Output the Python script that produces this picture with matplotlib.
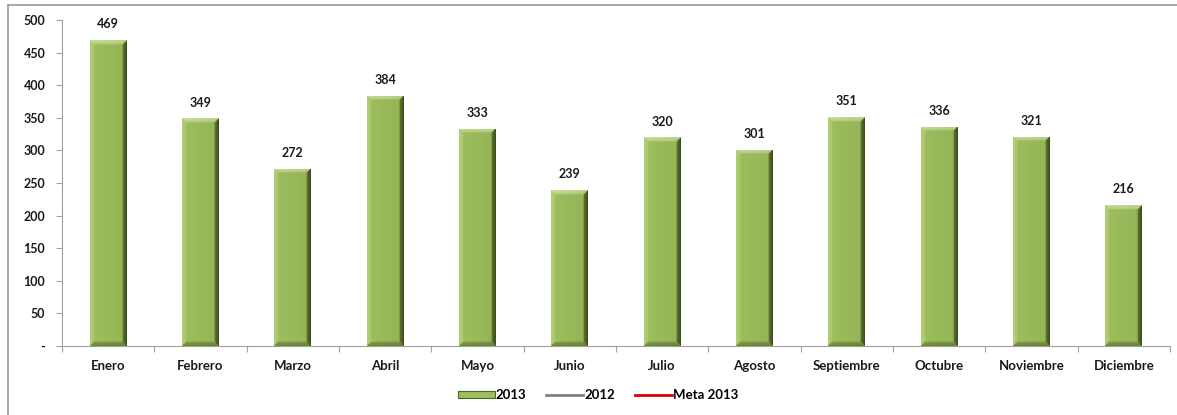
import numpy as np
import matplotlib
matplotlib.use("Agg")
import matplotlib.pyplot as plt
from matplotlib.patches import Patch
from matplotlib.lines import Line2D
from matplotlib.colors import to_rgb

months = ["Enero", "Febrero", "Marzo", "Abril", "Mayo", "Junio", "Julio",
          "Agosto", "Septiembre", "Octubre", "Noviembre", "Diciembre"]
values_2013 = [469, 349, 272, 384, 333, 239, 320, 301, 351, 336, 321, 216]
y_ticks = [0, 50, 100, 150, 200, 250, 300, 350, 400, 450, 500]
y_ticklabels = ["-" if t == 0 else str(t) for t in y_ticks]
legend_labels = ["2013", "2012", "Meta 2013"]

plt.rcParams["font.family"] = ["Lato", "DejaVu Sans"]

W, H, DPI = 1177, 415, 100
fig = plt.figure(figsize=(W / DPI, H / DPI), dpi=DPI)
fig.patch.set_facecolor("white")

# plot area in pixel coordinates
left_px, right_px = 62, 1170
top_px, bottom_px = 20, 346
ax = fig.add_axes([left_px / W, 1 - bottom_px / H,
                   (right_px - left_px) / W, (bottom_px - top_px) / H])

x = np.arange(len(months))
bar_w = 0.4
base = np.array(to_rgb("#9DBF5C"))
top_c = np.array(to_rgb("#C9DF9C"))
left_c = np.array(to_rgb("#B3CE78"))
right_c = np.array(to_rgb("#3E4D1E"))
bottom_c = np.array(to_rgb("#6C8736"))

bars = ax.bar(x, values_2013, width=bar_w, color="#9DBF5C", edgecolor="none", zorder=2)

ax.set_xlim(-0.5, len(months) - 0.5)
ax.set_ylim(0, 500)
px_per_unit = (bottom_px - top_px) / 500.0
px_per_cat = (right_px - left_px) / len(months)
bevel_px = 4.5

# bevelled shading drawn inside each bar
for rect in bars:
    h = rect.get_height()
    x0 = rect.get_x()
    w = rect.get_width()
    width_px = w * px_per_cat
    height_px = h * px_per_unit
    ncols = int(width_px * 3)
    nrows = int(height_px * 3)
    cx = (np.arange(ncols) + 0.5) / ncols * width_px
    ry = (np.arange(nrows) + 0.5) / nrows * height_px  # from top
    X, Y = np.meshgrid(cx, ry)
    dl, dr = X, width_px - X
    dt, db = Y, height_px - Y
    d = np.stack([dl, dr, dt, db])
    which = np.argmin(d, axis=0)
    dmin = np.min(d, axis=0)
    t = np.clip(1 - dmin / bevel_px, 0, 1)
    t = np.where(dmin < bevel_px, 0.55 + 0.45 * t, 0.0)
    img = np.tile(base, (nrows, ncols, 1))
    for k, c in enumerate([left_c, right_c, top_c, bottom_c]):
        m = which == k
        img[m] = base * (1 - t[m, None]) + c * t[m, None]
    # soft vertical shading across the face
    shade = 1 - 0.06 * (cx / width_px)
    img = img * shade[None, :, None]
    im = ax.imshow(np.clip(img, 0, 1), extent=(x0, x0 + w, 0, h), aspect="auto",
                   interpolation="bilinear", zorder=3)
    im.set_clip_path(rect)

ax.set_aspect("auto")
ax.set_xlim(-0.5, len(months) - 0.5)
ax.set_ylim(0, 500)

for xi, v in zip(x, values_2013):
    ax.annotate(str(v), (xi, v), xytext=(0, 7), textcoords="offset points",
                ha="center", va="bottom", fontsize=9, fontweight="bold",
                color="#1a1a1a", zorder=5)

ax.set_yticks(y_ticks)
ax.set_yticklabels(y_ticklabels, fontsize=9, fontweight="bold", color="#1a1a1a")
ax.set_xticks(x)
ax.set_xticklabels(months, fontsize=9.5, fontweight="bold", color="#1a1a1a")
ax.tick_params(axis="x", length=0, pad=10)
ax.tick_params(axis="y", length=4, color="#A0A0A0", width=0.8, pad=8)
# category separators on the x axis
ax.set_xticks(np.arange(len(months) + 1) - 0.5, minor=True)
ax.tick_params(axis="x", which="minor", length=4, color="#A0A0A0", width=0.8)

for s in ["top", "right"]:
    ax.spines[s].set_visible(False)
for s in ["left", "bottom"]:
    ax.spines[s].set_color("#A0A0A0")
    ax.spines[s].set_linewidth(0.8)
ax.set_facecolor("none")

# chart border
fig.add_artist(Line2D([8 / W, 1.0], [1 - 5 / H, 1 - 5 / H], color="#999999", lw=1.2,
                      transform=fig.transFigure))
fig.add_artist(Line2D([8 / W, 8 / W], [1 - 5 / H, 0], color="#999999", lw=1.2,
                      transform=fig.transFigure))

handles = [Patch(facecolor="#9DBF5C", edgecolor="#4F6228", linewidth=0.8),
           Line2D([], [], color="#808080", lw=2),
           Line2D([], [], color="#E00000", lw=2)]
fig.legend(handles, legend_labels, loc="center", bbox_to_anchor=(598 / W, 1 - 395 / H),
           ncol=3, frameon=False, handlelength=2.8, handleheight=0.5,
           handletextpad=0.1, columnspacing=1.5, prop={"weight": "bold", "size": 9.5})

fig.savefig("out.png", dpi=DPI, facecolor="white")
